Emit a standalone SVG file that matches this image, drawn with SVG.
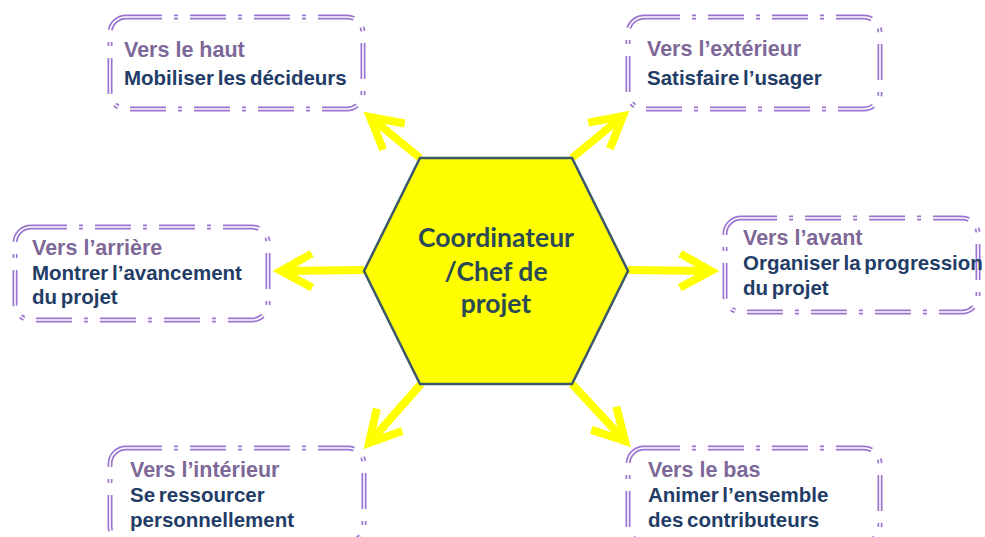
<svg xmlns="http://www.w3.org/2000/svg" width="985" height="537" viewBox="0 0 985 537">
<style>
.frame{fill:none;stroke:#9a74d0;stroke-width:5;stroke-dasharray:36 12 4 12;}
.frameIn{fill:none;stroke:#ffffff;stroke-width:1.6;stroke-dasharray:36 12 4 12;}
.t1{font-family:"Liberation Sans",Arial,sans-serif;font-weight:bold;font-size:21.5px;fill:#7d6898;}
.t2{font-family:"Liberation Sans",Arial,sans-serif;font-weight:bold;font-size:20.5px;fill:#1f3d66;word-spacing:-2px;}
.hex{fill:#ffff00;stroke:#3b5868;stroke-width:2.5;}
.ht{font-family:Lato,"Open Sans",sans-serif;font-weight:bold;font-size:26.5px;fill:#2c4a56;text-anchor:middle;}
.arr{stroke:#ffff00;stroke-width:8;fill:none;}
</style>
<defs>
<marker id="head" markerUnits="userSpaceOnUse" markerWidth="70" markerHeight="70" viewBox="-45 -35 70 70" refX="0" refY="0" orient="auto" overflow="visible">
<path d="M-31,-17 L0,0 L-31,17" fill="none" stroke="#ffff00" stroke-width="8" stroke-linejoin="miter"/>
</marker>
</defs>
<rect width="985" height="537" fill="#ffffff"/>

<g id="connectors">
<line class="arr" x1="420" y1="158" x2="370" y2="117" marker-end="url(#head)"/>
<line class="arr" x1="364" y1="270" x2="281" y2="271" marker-end="url(#head)"/>
<line class="arr" x1="572" y1="158" x2="623" y2="116" marker-end="url(#head)"/>
<line class="arr" x1="628" y1="270" x2="711" y2="271" marker-end="url(#head)"/>
<line class="arr" x1="421" y1="384" x2="369" y2="443" marker-end="url(#head)"/>
<line class="arr" x1="572" y1="384" x2="625" y2="441" marker-end="url(#head)"/>
</g>

<g id="center">
<polygon class="hex" points="420,158 572,158 628,271 572,384 420,384 364,271"/>
<text class="ht" x="496" y="247">Coordinateur</text>
<text class="ht" x="496" y="281">/Chef de</text>
<text class="ht" x="496" y="313">projet</text>
</g>

<g id="haut">
<rect class="frame" x="110" y="17" width="253" height="92" rx="16"/>
<rect class="frameIn" x="110" y="17" width="253" height="92" rx="16"/>
<text class="t1" x="124" y="57">Vers le haut</text>
<text class="t2" x="124" y="85">Mobiliser les décideurs</text>
</g>

<g id="exterieur">
<rect class="frame" x="628" y="17" width="252" height="92" rx="16"/>
<rect class="frameIn" x="628" y="17" width="252" height="92" rx="16"/>
<text class="t1" x="647" y="56">Vers l’extérieur</text>
<text class="t2" x="647" y="85">Satisfaire l’usager</text>
</g>

<g id="arriere">
<rect class="frame" x="15" y="227" width="253" height="93" rx="16"/>
<rect class="frameIn" x="15" y="227" width="253" height="93" rx="16"/>
<text class="t1" x="32" y="255">Vers l’arrière</text>
<text class="t2" x="32" y="280">Montrer l’avancement</text>
<text class="t2" x="32" y="304">du projet</text>
</g>

<g id="avant">
<rect class="frame" x="725" y="218" width="253" height="94" rx="16"/>
<rect class="frameIn" x="725" y="218" width="253" height="94" rx="16"/>
<text class="t1" x="743" y="245">Vers l’avant</text>
<text class="t2" x="743" y="270">Organiser la progression</text>
<text class="t2" x="743" y="295">du projet</text>
</g>

<g id="interieur">
<rect class="frame" x="110" y="448" width="254" height="94" rx="16"/>
<rect class="frameIn" x="110" y="448" width="254" height="94" rx="16"/>
<text class="t1" x="130" y="477">Vers l’intérieur</text>
<text class="t2" x="130" y="502">Se ressourcer</text>
<text class="t2" x="130" y="527">personnellement</text>
</g>

<g id="bas">
<rect class="frame" x="628" y="448" width="252" height="94" rx="16"/>
<rect class="frameIn" x="628" y="448" width="252" height="94" rx="16"/>
<text class="t1" x="648" y="477">Vers le bas</text>
<text class="t2" x="648" y="502">Animer l’ensemble</text>
<text class="t2" x="648" y="527">des contributeurs</text>
</g>
</svg>
